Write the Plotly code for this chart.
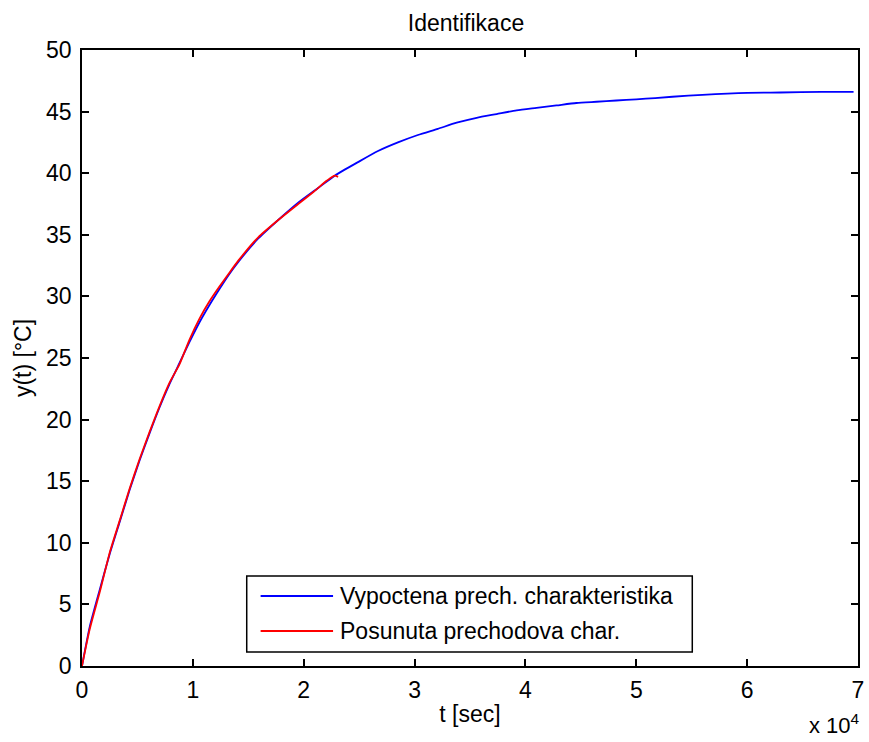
import plotly.graph_objects as go

# Blue: computed step response
t_calc = [0, 700, 1600, 2500, 3400, 4300, 5200, 6100, 7000, 7900, 8800, 9700, 10600,
          11500, 12400, 13200, 14100, 15900, 17700, 19500, 21300, 22800, 24900, 26700,
          28500, 30300, 32100, 33800, 35600, 37400, 39200, 41000, 42800, 44600, 46400,
          48200, 50000, 51700, 54700, 59200, 63000, 66700, 69600]
y_calc = [0, 3.2, 6.2, 9.1, 11.7, 14.3, 16.7, 18.9, 21.0, 22.9, 24.6, 26.3, 27.9,
          29.3, 30.6, 31.7, 32.8, 34.7, 36.2, 37.6, 38.8, 39.8, 40.9, 41.8,
          42.5, 43.1, 43.6, 44.1, 44.5, 44.8, 45.1, 45.3, 45.5, 45.7, 45.8,
          45.9, 46.0, 46.1, 46.3, 46.5, 46.55, 46.6, 46.6]

# Red: shifted measured step response
t_meas = [0, 700, 1600, 2500, 3400, 4300, 5200, 6100, 7000, 7900, 8800, 9700, 10600,
          11500, 12400, 13200, 14100, 15900, 17700, 19500, 20900, 22100, 22800, 23100]
y_meas = [0, 3.0, 6.0, 9.2, 11.8, 14.4, 16.8, 19.0, 21.1, 23.0, 24.5, 26.5, 28.2,
          29.6, 30.8, 31.8, 32.9, 34.8, 36.2, 37.5, 38.5, 39.4, 39.8, 39.7]

x_ticks = [0, 10000, 20000, 30000, 40000, 50000, 60000, 70000]
x_tick_text = ["0", "1", "2", "3", "4", "5", "6", "7"]
y_ticks = [0, 5, 10, 15, 20, 25, 30, 35, 40, 45, 50]

legend_names = ["Vypoctena prech. charakteristika", "Posunuta prechodova char."]
colors = ["#0000ff", "#ff0000"]

FONT = "Liberation Sans"
FS = 23

fig = go.Figure()
fig.add_trace(go.Scatter(x=t_calc, y=y_calc, mode="lines", name=legend_names[0],
                         line=dict(color=colors[0], width=1.8, shape="spline", smoothing=0.6),
                         showlegend=False))
fig.add_trace(go.Scatter(x=t_meas, y=y_meas, mode="lines", name=legend_names[1],
                         line=dict(color=colors[1], width=1.8, shape="spline", smoothing=0.6),
                         showlegend=False))

# plot area: x 82..864, y 50..666 (px)
L, R, T, B = 82, 864, 50, 666
W, H = 869, 742
pw, ph = R - L, B - T

def px(x):
    return (x - L) / pw

def py(y):
    return (B - y) / ph

shapes = []
annotations = []
# legend box
shapes.append(dict(type="rect", xref="paper", yref="paper",
                   x0=px(248), x1=px(697), y0=py(652), y1=py(576),
                   line=dict(color="black", width=1.5), fillcolor="white", layer="above"))
for name, c, yy in zip(legend_names, colors, [596, 631]):
    shapes.append(dict(type="line", xref="paper", yref="paper",
                       x0=px(262), x1=px(335), y0=py(yy), y1=py(yy),
                       line=dict(color=c, width=1.8), layer="above"))
    annotations.append(dict(xref="paper", yref="paper", x=px(340), y=py(yy),
                            xanchor="left", yanchor="middle", showarrow=False,
                            text=name, font=dict(family=FONT, size=FS, color="black")))

annotations.append(dict(xref="paper", yref="paper", x=px(868), y=py(740),
                        xanchor="right", yanchor="bottom", showarrow=False,
                        text="x 10<sup>4</sup>", font=dict(family=FONT, size=FS - 1, color="black")))

axis_common = dict(showline=True, linecolor="black", linewidth=1.5, mirror="ticks",
                   ticks="inside", ticklen=7, tickwidth=1.5, tickcolor="black",
                   showgrid=False, zeroline=False,
                   tickfont=dict(family=FONT, size=FS, color="black"))

fig.update_layout(
    width=W, height=H,
    margin=dict(l=L, r=W - R, t=T, b=H - B),
    paper_bgcolor="white", plot_bgcolor="white",
    title=dict(text="Identifikace", x=px((L + R) / 2 - 4), xref="paper", xanchor="center",
               y=1 - 23 / H, yanchor="middle",
               font=dict(family=FONT, size=FS, color="black")),
    xaxis=dict(range=[0, 70000], tickvals=x_ticks, ticktext=x_tick_text,
               title=dict(text="t [sec]", standoff=4, font=dict(family=FONT, size=FS, color="black")),
               ticklabelstandoff=3, **axis_common),
    yaxis=dict(range=[0, 50], tickvals=y_ticks,
               title=dict(text="y(t) [°C]", standoff=8, font=dict(family=FONT, size=FS, color="black")),
               ticklabelstandoff=4, **axis_common),
    shapes=shapes, annotations=annotations,
    showlegend=False,
)

fig.write_html("out.html")
